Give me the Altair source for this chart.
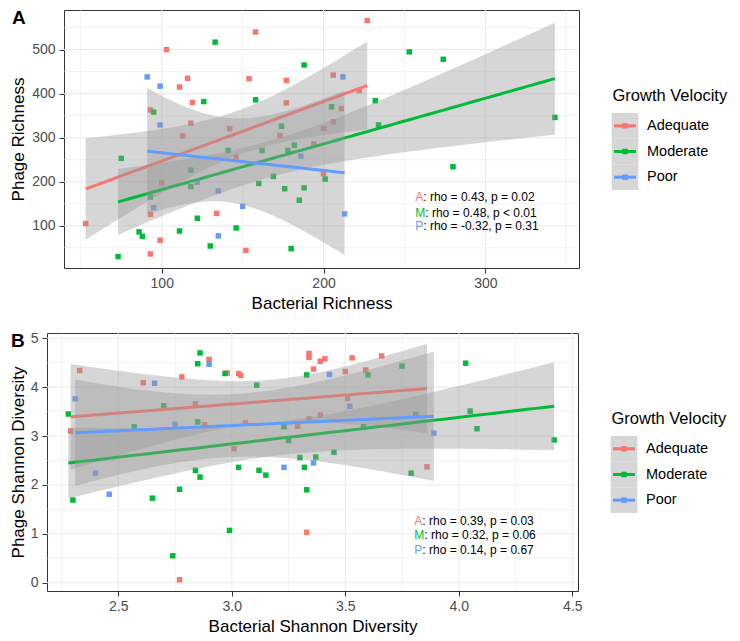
import altair as alt
import numpy as np
import pandas as pd

GROUPS = ["Adequate", "Moderate", "Poor"]
COLORS = ["#F8766D", "#00BA38", "#619CFF"]
LETTERS = ["A", "M", "P"]
FONT = "Liberation Sans"

# ---------------- Panel A: richness ----------------
a_adequate_x = [53, 103, 111, 116, 119, 118, 113, 93, 93, 93, 99, 100, 134, 142, 146,
                152, 154, 158, 173, 177, 177, 194, 200, 200, 206, 206, 211, 222, 227]
a_adequate_y = [105, 500, 415, 435, 380, 333, 304, 363, 126, 36, 67, 197, 128, 320, 256,
                44, 434, 540, 305, 430, 379, 286, 321, 218, 442, 336, 366, 407, 566]
a_moderate_x = [75, 73, 86, 88, 93, 95, 118, 118, 122, 111, 126, 130, 133, 141, 146, 158,
                160, 162, 169, 174, 176, 178, 180, 182, 185, 188, 188, 201, 205, 232, 234,
                253, 274, 343, 280]
a_moderate_y = [253, 30, 86, 76, 165, 358, 226, 189, 117, 88, 382, 54, 517, 271, 95, 386,
                196, 271, 212, 326, 184, 271, 48, 283, 158, 186, 465, 206, 370, 384, 329,
                495, 478, 346, 234]
a_poor_x = [91, 99, 99, 95, 122, 135, 135, 150, 186, 212, 213]
a_poor_y = [438, 417, 329, 141, 199, 179, 77, 144, 258, 438, 127]
a_stats = ["rho = 0.43, p = 0.02", "rho = 0.48, p < 0.01", "rho = -0.32, p = 0.31"]

# ---------------- Panel B: Shannon diversity ----------------
b_adequate_x = [2.33, 2.29, 2.61, 2.78, 2.84, 2.88, 2.90, 2.98, 3.03, 3.04, 3.01, 3.06,
                2.77, 3.33, 3.29, 3.34, 3.34, 3.34, 3.36, 3.39, 3.39, 3.41, 3.50, 3.51,
                3.53, 3.59, 3.66, 3.86]
b_adequate_y = [4.34, 3.10, 4.09, 4.21, 3.66, 3.23, 4.57, 4.29, 4.28, 4.24, 2.74, 3.27,
                0.06, 1.03, 3.20, 3.35, 4.69, 4.61, 4.37, 3.43, 4.53, 4.58, 4.32, 3.77,
                4.60, 4.35, 4.64, 2.37]
b_moderate_x = [2.28, 2.30, 2.57, 2.65, 2.70, 2.74, 2.77, 2.84, 2.86, 2.85, 2.85, 2.86,
                2.97, 2.99, 3.03, 3.11, 3.12, 3.15, 3.23, 3.25, 3.30, 3.32, 3.33, 3.33,
                3.37, 3.45, 3.58, 3.60, 3.75, 4.03, 4.05, 4.08, 4.42, 3.81, 3.79]
b_moderate_y = [3.45, 1.69, 3.19, 1.73, 3.62, 0.55, 1.91, 2.30, 2.16, 3.29, 4.48, 4.70,
                4.28, 1.07, 2.36, 4.04, 2.30, 2.20, 3.19, 2.91, 2.56, 2.36, 1.90, 4.25,
                2.57, 2.67, 3.19, 4.25, 4.43, 4.49, 3.51, 3.15, 2.92, 3.44, 2.24]
b_poor_x = [2.31, 2.40, 2.46, 2.66, 2.75, 2.90, 3.23, 3.36, 3.43, 3.52, 3.89]
b_poor_y = [3.76, 2.24, 1.81, 4.08, 3.24, 4.47, 2.36, 2.45, 4.26, 3.61, 3.06]
b_stats = ["rho = 0.39, p = 0.03", "rho = 0.32, p = 0.06", "rho = 0.14, p = 0.67"]


def t975(df):
    z = 1.959964
    return (z + (z**3 + z) / (4 * df) + (5 * z**5 + 16 * z**3 + 3 * z) / (96 * df**2)
            + (3 * z**7 + 19 * z**5 + 17 * z**3 - 15 * z) / (384 * df**3))


def smooth(xs, ys, g):
    x = np.asarray(xs, float)
    y = np.asarray(ys, float)
    n = len(x)
    b, a = np.polyfit(x, y, 1)
    xg = np.linspace(x.min(), x.max(), 80)
    fit = a + b * xg
    resid = y - (a + b * x)
    s = np.sqrt((resid**2).sum() / (n - 2))
    sxx = ((x - x.mean())**2).sum()
    se = s * np.sqrt(1 / n + (xg - x.mean())**2 / sxx)
    t = t975(n - 2)
    return pd.DataFrame({"x": xg, "fit": fit, "lo": fit - t * se, "hi": fit + t * se, "group": g})


def build_panel(series, xdom, ydom, xticks, xgrid, yticks, ygrid, xfmt, yfmt, xtitle, ytitle,
                W, H, plot_left, letter, letter_x, ann_x, ann_ys, stats, ytitle_pad):
    xs = alt.Scale(domain=xdom, nice=False, zero=False)
    ys = alt.Scale(domain=ydom, nice=False, zero=False)
    cs = alt.Scale(domain=GROUPS, range=COLORS)
    xax = alt.Axis(values=xticks, format=xfmt, grid=False, domain=False, tickSize=5,
                   labelPadding=3, titlePadding=5)
    yax = alt.Axis(values=yticks, format=yfmt, grid=False, domain=False, tickSize=5,
                   labelPadding=4, titlePadding=ytitle_pad)

    def X(f):
        return alt.X(f"{f}:Q", scale=xs, axis=xax, title=xtitle)

    def Y(f):
        return alt.Y(f"{f}:Q", scale=ys, axis=yax, title=ytitle)

    def XD(v):
        return alt.XDatum(v, type="quantitative", scale=xs, axis=xax, title=xtitle)

    def YD(v):
        return alt.YDatum(v, type="quantitative", scale=ys, axis=yax, title=ytitle)

    one = pd.DataFrame({"k": [0]})
    layers = []
    # grid lines
    major_x = pd.DataFrame({"v": [v for v in xgrid if v in xticks]})
    minor_x = pd.DataFrame({"v": [v for v in xgrid if v not in xticks]})
    major_y = pd.DataFrame({"v": [v for v in ygrid if v in yticks]})
    minor_y = pd.DataFrame({"v": [v for v in ygrid if v not in yticks]})
    for d, w in [(minor_x, 0.6), (major_x, 1.1)]:
        layers.append(alt.Chart(d).mark_rule(color="#EBEBEB", strokeWidth=w).encode(
            x=X("v"), y=alt.value(0), y2=alt.value(H)))
    for d, w in [(minor_y, 0.6), (major_y, 1.1)]:
        layers.append(alt.Chart(d).mark_rule(color="#EBEBEB", strokeWidth=w).encode(
            y=Y("v"), x=alt.value(0), x2=alt.value(W)))

    pts = pd.concat([pd.DataFrame({"x": sx, "y": sy, "group": g})
                     for g, (sx, sy) in zip(GROUPS, series)], ignore_index=True)
    layers.append(alt.Chart(pts).mark_point(shape="square", filled=True, size=30, opacity=1).encode(
        x=X("x"), y=Y("y"), color=alt.Color("group:N", scale=cs, legend=None)))

    for g, (sx, sy) in zip(GROUPS, series):
        fd = smooth(sx, sy, g)
        layers.append(alt.Chart(fd).mark_area(color="#999999", opacity=0.4).encode(
            x=X("x"), y=Y("lo"), y2=alt.Y2("hi:Q")))
        layers.append(alt.Chart(fd).mark_line(strokeWidth=3).encode(
            x=X("x"), y=Y("fit"), color=alt.Color("group:N", scale=cs, legend=None)))

    letter_w = [8.0, 10.0, 8.0]
    for i in range(3):
        layers.append(alt.Chart(one).mark_text(
            text=LETTERS[i], color=COLORS[i], align="left", baseline="middle",
            fontSize=12, font=FONT).encode(x=XD(ann_x), y=YD(ann_ys[i])))
        layers.append(alt.Chart(one).mark_text(
            text=": " + stats[i], color="black", align="left", baseline="middle",
            fontSize=12, font=FONT, dx=letter_w[i]).encode(x=XD(ann_x), y=YD(ann_ys[i])))

    layers.append(alt.Chart(one).mark_text(
        text=letter, fontWeight="bold", fontSize=19, font=FONT, align="left",
        baseline="top", color="black").encode(x=alt.value(letter_x), y=alt.value(-1)))

    data_layer = alt.layer(*layers)

    # legend (drawn manually, ggplot-like key with grey band background)
    def px(v):
        return v - plot_left
    leg = pd.DataFrame({"group": GROUPS})
    band = alt.Scale(domain=GROUPS, range=[103, 180], paddingInner=0, paddingOuter=0)
    ly = alt.Y("group:N", scale=band, axis=None)
    lyc = alt.Y("group:N", scale=band, axis=None, bandPosition=0.5)
    lc = alt.Color("group:N", scale=cs, legend=None)
    legend_layer = alt.layer(
        alt.Chart(leg).mark_rect(color="#D6D6D6").encode(
            x=alt.value(px(610.7)), x2=alt.value(px(637.3)), y=ly),
        alt.Chart(leg).mark_rule(strokeWidth=3).encode(
            x=alt.value(px(613)), x2=alt.value(px(635)), y=lyc, color=lc),
        alt.Chart(leg).mark_point(shape="square", filled=True, size=30, opacity=1).encode(
            x=alt.value(px(624)), y=lyc, color=lc),
        alt.Chart(leg).mark_text(align="left", baseline="middle", fontSize=14.5,
                                 font=FONT, color="black").encode(
            x=alt.value(px(646)), y=lyc, text="group:N"),
        alt.Chart(one).mark_text(text="Growth Velocity", align="left", baseline="middle",
                                 fontSize=16.5, font=FONT, color="black").encode(
            x=alt.value(px(611.5)), y=alt.value(86)),
    )
    body = alt.layer(data_layer, legend_layer).resolve_scale(y="independent").properties(
        width=W, height=H)
    # an empty 1px cell so that each panel's full bounds (not its plot origin) are left-aligned
    empty = pd.DataFrame({"k": pd.Series([], dtype=float)})
    spacer = alt.Chart(empty).mark_point(opacity=0, size=0).properties(
        width=1, height=1, view=alt.ViewBackground(stroke="transparent", strokeWidth=0))
    return alt.hconcat(spacer, body, spacing=0)


panel_a = build_panel(
    [(a_adequate_x, a_adequate_y), (a_moderate_x, a_moderate_y), (a_poor_x, a_poor_y)],
    xdom=[39.6, 357.9], ydom=[4, 590],
    xticks=[100, 200, 300], xgrid=[50, 100, 150, 200, 250, 300, 350],
    yticks=[100, 200, 300, 400, 500], ygrid=[50, 100, 150, 200, 250, 300, 350, 400, 450, 500, 550],
    xfmt="d", yfmt="d", xtitle="Bacterial Richness", ytitle="Phage Richness",
    W=515, H=258, plot_left=63, letter="A", letter_x=-52,
    ann_x=256.7, ann_ys=[164.5, 130, 98.6], stats=a_stats, ytitle_pad=4)

panel_b = build_panel(
    [(b_adequate_x, b_adequate_y), (b_moderate_x, b_moderate_y), (b_poor_x, b_poor_y)],
    xdom=[2.186, 4.525], ydom=[-0.17, 5.108],
    xticks=[2.5, 3.0, 3.5, 4.0, 4.5], xgrid=[2.25, 2.5, 2.75, 3.0, 3.25, 3.5, 3.75, 4.0, 4.25, 4.5],
    yticks=[0, 1, 2, 3, 4, 5], ygrid=[0, 0.5, 1, 1.5, 2, 2.5, 3, 3.5, 4, 4.5, 5],
    xfmt=".1f", yfmt="d", xtitle="Bacterial Shannon Diversity", ytitle="Phage Shannon Diversity",
    W=531, H=258, plot_left=47, letter="B", letter_x=-36,
    ann_x=3.804, ann_ys=[1.27, 0.97, 0.67], stats=b_stats, ytitle_pad=2.5)

chart = alt.vconcat(panel_a, panel_b, spacing=18).properties(
    padding=0, background="white"
).configure_view(
    stroke="#333333", strokeWidth=1
).configure_axis(
    labelFont=FONT, titleFont=FONT, labelFontSize=14, titleFontSize=17,
    labelColor="#4D4D4D", titleColor="black", titleFontWeight="normal",
    tickColor="#333333", tickWidth=1
)

chart.save("out.html", embed_options={"renderer": "svg", "actions": False})
